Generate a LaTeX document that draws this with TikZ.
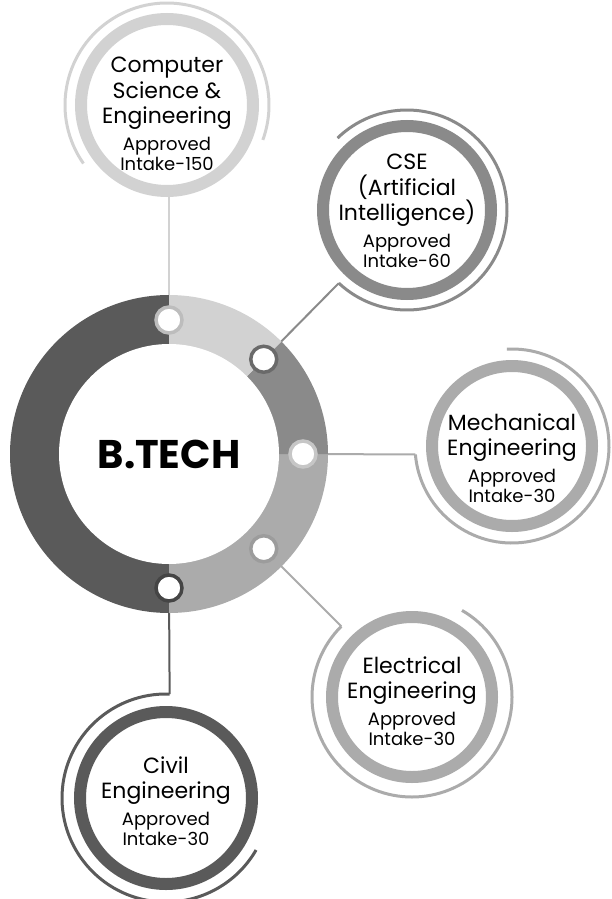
\documentclass[tikz,border=0pt]{standalone}
\usepackage{fontspec}
\setmainfont{Poppins}
\usetikzlibrary{backgrounds}

\definecolor{ringdark}{HTML}{5A5A5A}
\definecolor{ringlight}{HTML}{D2D2D2}
\definecolor{ringmid}{HTML}{8A8A8A}
\definecolor{ringsoft}{HTML}{ABABAB}
\definecolor{dotcs}{HTML}{BDBDBD}
\definecolor{dotai}{HTML}{6A6A6A}
\definecolor{dotme}{HTML}{C6C6C6}
\definecolor{dotee}{HTML}{9C9C9C}
\definecolor{dotce}{HTML}{454545}

\newcommand{\subsize}{\fontsize{18}{19}\selectfont}

\tikzset{
  hubdot/.style={circle, fill=white, line width=3.5pt, minimum size=26pt, inner sep=0pt},
  satring/.style={circle, fill=white, line width=12pt, minimum size=#1, inner sep=0pt},
  sattext/.style={align=center, inner sep=0pt, font=\fontsize{22}{25.5}\selectfont},
  thinarc/.style={line width=3pt},
  link/.style={line width=2pt}
}

\begin{document}
\begin{tikzpicture}[x=1pt,y=1pt]
\useasboundingbox (0,0) rectangle (611,-899);

% hub ring
\coordinate (hub) at (169,-454);
\fill[ringdark] (hub) -- ++(90:159) arc[start angle=90, end angle=270, radius=159] -- cycle;
\fill[ringsoft] (hub) -- ++(-90:159) arc[start angle=-90, end angle=0, radius=159] -- cycle;
\fill[ringmid] (hub) -- ++(0:159) arc[start angle=0, end angle=45, radius=159] -- cycle;
\fill[ringlight] (hub) -- ++(45:159) arc[start angle=45, end angle=90, radius=159] -- cycle;
\node[circle, fill=white, minimum size=220pt, inner sep=0pt,
  font=\fontsize{40}{40}\selectfont\bfseries] (btech) at (hub) {B.TECH};

\foreach \ang/\nm/\col in {90/dcs/dotcs, 45/dai/dotai, 0/dme/dotme, -45/dee/dotee, -90/dce/dotce}
  \node[hubdot, draw=\col] (\nm) at ([shift={(\ang:134)}]hub) {};

% branches
\node[satring=172pt, draw=ringlight] (cs) at (167,-105) {};
\node[sattext] (cs-txt) at ([yshift=-9pt]cs.center)
  {Computer\\Science \&\\Engineering\\[1pt]\subsize Approved\\[-5pt]\subsize Intake-150};
\draw[thinarc, ringlight] ([shift={(215:102)}]cs.center) arc[start angle=215, end angle=-20, radius=102];
\coordinate (cs-in) at (dcs |- cs.south);

\node[satring=168pt, draw=ringmid] (ai) at (407,-210) {};
\node[sattext] (ai-txt) at ([yshift=-1pt]ai.center)
  {CSE\\(Artificial\\Intelligence)\\[1pt]\subsize Approved\\[-5pt]\subsize Intake-60};
\draw[thinarc, ringmid] ([shift={(227:100)}]ai.center) arc[start angle=227, end angle=494, radius=100];
\coordinate (ai-in) at ([shift={(227:100)}]ai.center);

\node[satring=160pt, draw=ringsoft] (me) at (512,-446) {};
\node[sattext] (me-txt) at ([yshift=-12pt]me.center)
  {Mechanical\\Engineering\\[1pt]\subsize Approved\\[-5pt]\subsize Intake-30};
\draw[thinarc, ringsoft] ([shift={(185:97)}]me.center) arc[start angle=185, end angle=453, radius=97];
\coordinate (me-in) at ([shift={(185:97)}]me.center);

\node[satring=160pt, draw=ringsoft] (ee) at (412,-697) {};
\node[sattext] (ee-txt) at ([yshift=-4pt]ee.center)
  {Electrical\\Engineering\\[1pt]\subsize Approved\\[-5pt]\subsize Intake-30};
\draw[thinarc, ringsoft] ([shift={(135:100)}]ee.center) arc[start angle=135, end angle=420, radius=100];
\coordinate (ee-in) at ([shift={(135:100)}]ee.center);

\node[satring=172pt, draw=ringdark] (ce) at (166,-798) {};
\node[sattext] (ce-txt) at ([yshift=-3pt]ce.center)
  {Civil\\Engineering\\[1pt]\subsize Approved\\[-5pt]\subsize Intake-30};
\draw[thinarc, ringdark] ([shift={(88:104)}]ce.center) arc[start angle=88, end angle=330, radius=104];
\coordinate (ce-in) at ([shift={(88:104)}]ce.center);

\begin{scope}[on background layer]
\draw[link, ringlight] (dcs) -- (cs-in);
\draw[link, ringmid] (dai) -- (ai-in);
\draw[link, ringsoft] (dme) -- (me-in);
\draw[link, ringsoft] (dee) -- (ee-in);
\draw[link, ringdark] (dce) -- (ce-in);
\end{scope}
\end{tikzpicture}
\end{document}
